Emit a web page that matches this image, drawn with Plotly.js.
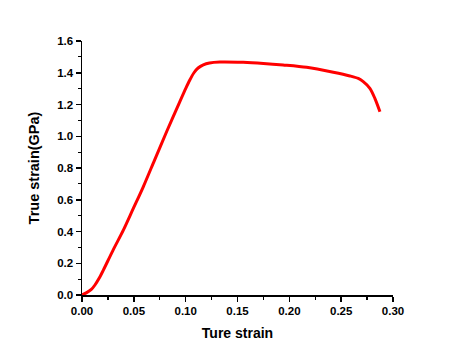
<!DOCTYPE html>
<html>
<head>
<meta charset="utf-8">
<script src="https://cdn.plot.ly/plotly-3.0.1.min.js"></script>
<style>html,body{margin:0;padding:0;background:#fff;}#chart{width:456px;height:352px;}</style>
</head>
<body>
<div id="chart"></div>
<script>
const strain = [0, 0.0045, 0.009, 0.0125, 0.0165, 0.0206, 0.030, 0.040, 0.0495, 0.059, 0.070, 0.0817, 0.0945, 0.100, 0.104, 0.108, 0.112, 0.117, 0.123, 0.133, 0.1555, 0.175, 0.194, 0.2167, 0.2424, 0.2584, 0.2665, 0.2713, 0.2777, 0.2825, 0.2874];
const stress = [0, 0.015, 0.035, 0.063, 0.105, 0.157, 0.283, 0.41, 0.545, 0.68, 0.85, 1.03, 1.22, 1.30, 1.354, 1.40, 1.43, 1.45, 1.462, 1.468, 1.466, 1.459, 1.449, 1.434, 1.403, 1.38, 1.364, 1.344, 1.302, 1.239, 1.155];
const xTitle = 'Ture strain';
const yTitle = 'True strain(GPa)';

const fam = 'Liberation Sans, Arial, sans-serif';
Plotly.newPlot('chart', [{
  x: strain, y: stress, type: 'scatter', mode: 'lines',
  line: {color: '#ff0000', width: 3, shape: 'spline', smoothing: 0.8},
  hoverinfo: 'skip'
}], {
  width: 456, height: 352,
  margin: {l: 82, r: 63, t: 41, b: 57},
  paper_bgcolor: '#fff', plot_bgcolor: '#fff',
  showlegend: false,
  font: {family: fam, size: 11, color: '#000'},
  xaxis: {
    range: [0, 0.30], dtick: 0.05, tick0: 0, tickformat: '.2f',
    showgrid: false, zeroline: false, showline: true, linecolor: '#000', linewidth: 1.5,
    ticks: 'outside', ticklen: 5, tickwidth: 1.5, tickcolor: '#000',
    tickfont: {family: fam, size: 11.5, color: '#000', weight: 'bold'},
    minor: {dtick: 0.025, tick0: 0, ticks: 'outside', ticklen: 3, tickwidth: 1.2, tickcolor: '#000', showgrid: false},
    title: {text: '<b>' + xTitle + '</b>', font: {family: fam, size: 14, color: '#000'}, standoff: 12},
    automargin: false
  },
  yaxis: {
    range: [0, 1.6], dtick: 0.2, tick0: 0, tickformat: '.1f',
    showgrid: false, zeroline: false, showline: true, linecolor: '#000', linewidth: 1.5,
    ticks: 'outside', ticklen: 5, tickwidth: 1.5, tickcolor: '#000',
    tickfont: {family: fam, size: 11.5, color: '#000', weight: 'bold'},
    minor: {dtick: 0.1, tick0: 0, ticks: 'outside', ticklen: 3, tickwidth: 1.2, tickcolor: '#000', showgrid: false},
    title: {text: '<b>' + yTitle + '</b>', font: {family: fam, size: 14.5, color: '#000'}, standoff: 14},
    automargin: false
  }
}, {staticPlot: true, displayModeBar: false});
</script>
</body>
</html>
